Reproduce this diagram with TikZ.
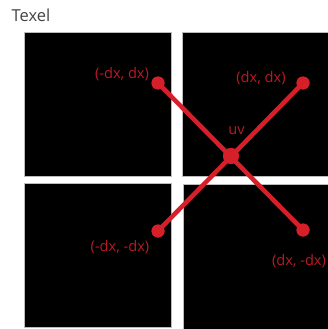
\documentclass[tikz,border=0pt]{standalone}
\usepackage{fontspec}
\setmainfont{Open Sans}
\definecolor{linered}{HTML}{D71F2A}
\definecolor{textred}{HTML}{BA1A23}
\definecolor{titlegray}{HTML}{444444}
\definecolor{edgegray}{HTML}{BBBBBB}
\begin{document}
\begin{tikzpicture}[x=1pt,y=-1pt,
  texelbox/.style={fill=black,draw=edgegray,line width=0.8pt},
  cornerdot/.style={circle,fill=linered,inner sep=0pt,minimum size=13pt},
  centerdot/.style={circle,fill=linered,inner sep=0pt,minimum size=16pt},
  conn/.style={draw=linered,line width=4.5pt},
  lbl/.style={text=textred,font=\fontsize{14.6}{16}\selectfont,inner sep=0pt}]
\useasboundingbox (0,0) rectangle (328,329);
\fill[white] (0,0) rectangle (328,329);
\node[text=titlegray,font=\fontsize{16.5}{18}\selectfont,inner sep=0pt] (title) at (31,15) {Texel};
\draw[texelbox] (24,32) rectangle (171.5,176);
\draw[texelbox] (182,32) rectangle (329,176);
\draw[texelbox] (24,183) rectangle (171.5,327);
\draw[texelbox] (183,184.5) rectangle (329,330);
\node[centerdot] (uv) at (231,156) {};
\node[cornerdot] (tl) at (158,83) {};
\node[cornerdot] (tr) at (303,83) {};
\node[cornerdot] (bl) at (158,231) {};
\node[cornerdot] (br) at (303,230) {};
\draw[conn] (tl.center) -- (br.center);
\draw[conn] (tr.center) -- (bl.center);
\node[centerdot] at (uv) {};
\node[cornerdot] at (tl) {};
\node[cornerdot] at (tr) {};
\node[cornerdot] at (bl) {};
\node[cornerdot] at (br) {};
\node[lbl] (ltl) at (122,74) {(-dx, dx)};
\node[lbl] (ltr) at (261,78) {(dx, dx)};
\node[lbl] (luv) at (236.5,131) {uv};
\node[lbl] (lbl) at (120,247) {(-dx, -dx)};
\node[lbl] (lbr) at (299,261) {(dx, -dx)};
\end{tikzpicture}
\end{document}
